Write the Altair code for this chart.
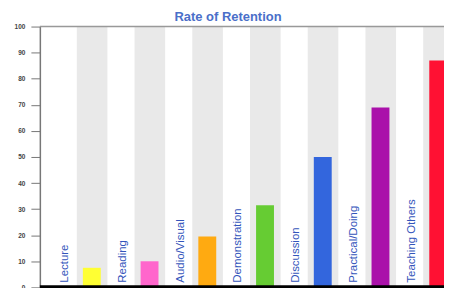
import altair as alt
import pandas as pd

categories = ["Lecture", "Reading", "Audio/Visual", "Demonstration",
              "Discussion", "Practical/Doing", "Teaching Others"]
retention = [7.5, 10, 19.5, 31.5, 50, 69, 87]
colors = ["#ffff33", "#ff66cc", "#ffaa11", "#66cc33", "#3366dd", "#aa11aa", "#ff1133"]
y_ticks = list(range(0, 101, 10))

df = pd.DataFrame({"category": categories, "value": retention,
                   "color": colors, "idx": list(range(len(categories)))})

xs = alt.Scale(domain=[0, 7], nice=False, zero=False)
ys = alt.Scale(domain=[0, 100], nice=False)
y_axis = alt.Axis(
    values=y_ticks, title=None, grid=False, tickSize=9, tickColor="#777",
    domainColor="#777", domainWidth=1.5, labelFontSize=6.5, labelFontWeight="bold",
    labelColor="#444", labelPadding=6, labelFont="Liberation Sans",
    labelOverlap=False)

base = alt.Chart(df).transform_calculate(
    gx0="datum.idx + 0.64", gx1="datum.idx + 1.17",
    bx0="datum.idx + 0.745", bx1="datum.idx + 1.055",
    lx="datum.idx + 0.44", top="100", zero="0", ly="1.8"
)

gray = base.mark_rect(color="#e9e9e9").encode(
    x=alt.X("gx0:Q", scale=xs, axis=None),
    x2="gx1:Q",
    y=alt.Y("top:Q", scale=ys, axis=y_axis),
    y2="zero:Q",
)

bars = base.mark_rect().encode(
    x=alt.X("bx0:Q", scale=xs, axis=None),
    x2="bx1:Q",
    y=alt.Y("value:Q", scale=ys, axis=y_axis),
    y2="zero:Q",
    color=alt.Color("color:N", scale=None),
)

labels = base.mark_text(angle=270, align="left", baseline="middle",
                        fontSize=11.5, font="Liberation Sans", color="#3355bb").encode(
    x=alt.X("lx:Q", scale=xs, axis=None),
    y=alt.Y("ly:Q", scale=ys, axis=y_axis),
    text="category:N",
)

top_rule = alt.Chart(pd.DataFrame({"v": [100]})).mark_rule(color="#999", strokeWidth=1.5).encode(
    y=alt.Y("v:Q", scale=ys, axis=y_axis), x=alt.value(0), x2=alt.value(420))

bottom_rule = alt.Chart(pd.DataFrame({"v": [0]})).mark_rule(color="#000", strokeWidth=4).encode(
    y=alt.Y("v:Q", scale=ys, axis=y_axis), x=alt.value(0), x2=alt.value(420))

chart = alt.layer(gray, bars, labels, top_rule, bottom_rule).properties(
    width=406, height=262,
    autosize=alt.AutoSizeParams(type="none"),
    padding={"left": 32, "top": 18, "right": 0, "bottom": 0},
    title=alt.TitleParams("Rate of Retention", fontSize=13, fontWeight="bold",
                          color="#4a6fc9", anchor="middle", dx=-14, dy=0, offset=0,
                          font="Liberation Sans"),
).configure_view(stroke=None)

chart.save("out.html", embed_options={"renderer": "svg", "actions": False})
